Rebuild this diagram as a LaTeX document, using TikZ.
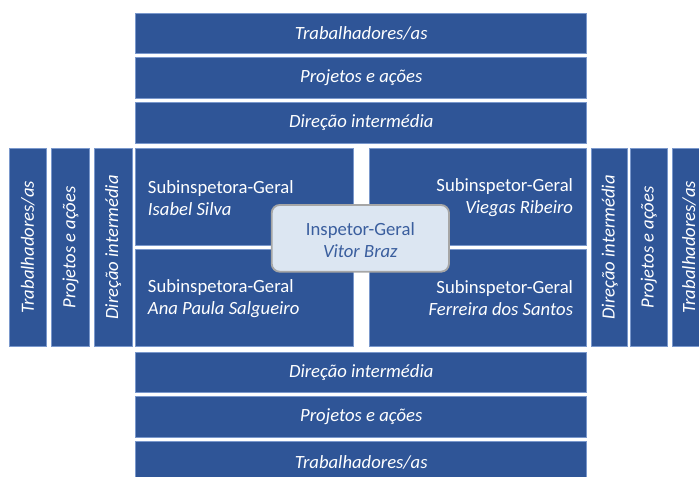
\documentclass[tikz,border=0pt]{standalone}
\usepackage{fontspec}
\setmainfont{Carlito}
\usetikzlibrary{fit}
\definecolor{boxblue}{HTML}{2F5597}
\definecolor{boxedge}{HTML}{7A98CC}
\definecolor{ctrfill}{HTML}{DCE6F2}
\definecolor{ctredge}{HTML}{A6A6A6}
\definecolor{ctrtext}{HTML}{3A5E9E}
\begin{document}
\begin{tikzpicture}[x=0.75pt,y=-0.75pt,
  blk/.style={draw=boxedge, line width=0.6pt, fill=boxblue, inner sep=0pt},
  lbl/.style={text=white, font=\fontsize{14}{16.5}\selectfont\itshape, inner sep=0pt},
  vlbl/.style={lbl, rotate=90},
  sub/.style={text=white, font=\fontsize{14}{16.5}\selectfont, inner sep=0pt},
  ctr/.style={draw=ctredge, line width=1.4pt, fill=ctrfill, rounded corners=6pt, inner sep=0pt},
  ctrlbl/.style={text=ctrtext, font=\fontsize{14}{16.5}\selectfont, inner sep=0pt, align=center}]
\useasboundingbox (0,0) rectangle (699,477);
\clip (0,0) rectangle (699,477);
% top bars
\node[blk, fit={(135.7,13.3) (586.7,53.3)}] (t1) {};
\node[blk, fit={(135.7,57.3) (586.7,98.3)}] (t2) {};
\node[blk, fit={(135.7,102.3) (586.7,143.3)}] (t3) {};
\node[lbl] (t1l) at (t1.center) {Trabalhadores/as};
\node[lbl] (t2l) at (t2.center) {Projetos e ações};
\node[lbl] (t3l) at (t3.center) {Direção intermédia};
% bottom bars
\node[blk, fit={(135.7,352) (586.7,392.7)}] (b3) {};
\node[blk, fit={(135.7,396.7) (586.7,437.3)}] (b2) {};
\node[blk, fit={(135.7,441.7) (586.7,482)}] (b1) {};
\node[lbl] (b3l) at (b3.center) {Direção intermédia};
\node[lbl] (b2l) at (b2.center) {Projetos e ações};
\node[lbl] (b1l) at ([yshift=-0.75pt]b1.center) {Trabalhadores/as};
% left columns
\node[blk, fit={(9,148.7) (46.7,346)}] (l1) {};
\node[blk, fit={(51.7,148.7) (89.3,346)}] (l2) {};
\node[blk, fit={(94,148.7) (132.3,346)}] (l3) {};
\node[vlbl] (l1l) at (l1.center) {Trabalhadores/as};
\node[vlbl] (l2l) at (l2.center) {Projetos e ações};
\node[vlbl] (l3l) at (l3.center) {Direção intermédia};
% right columns
\node[blk, fit={(591.7,148.7) (627.7,346)}] (r3) {};
\node[blk, fit={(630,148.7) (667.5,346)}] (r2) {};
\node[blk, fit={(672,148.7) (711,346)}] (r1) {};
\node[vlbl] (r3l) at (r3.center) {Direção intermédia};
\node[vlbl] (r2l) at (r2.center) {Projetos e ações};
\node[vlbl] (r1l) at (689,247.3) {Trabalhadores/as};
% quadrants
\node[blk, fit={(135.7,148.7) (353.3,245)}] (qul) {};
\node[blk, fit={(135.7,249) (353.3,346)}] (qll) {};
\node[blk, fit={(369,148.7) (586.7,245)}] (qur) {};
\node[blk, fit={(369,249) (586.7,346)}] (qlr) {};
\node[sub, anchor=west, align=left] (qull) at (147.7,198) {Subinspetora-Geral\\\textit{Isabel Silva}};
\node[sub, anchor=west, align=left] (qlll) at (147.7,298.5) {Subinspetora-Geral\\\textit{Ana Paula Salgueiro}};
\node[sub, anchor=east, align=right] (qurl) at (573.3,198) {Subinspetor-Geral\\\textit{Viegas Ribeiro}};
\node[sub, anchor=east, align=right] (qlrl) at (573.3,298.5) {Subinspetor-Geral\\\textit{Ferreira dos Santos}};
% centre
\node[ctr, fit={(271.7,205) (449,271.7)}] (c) {};
\node[ctrlbl] (cl) at ([yshift=-1pt]c.center) {Inspetor-Geral\\\textit{Vitor Braz}};
\end{tikzpicture}
\end{document}
